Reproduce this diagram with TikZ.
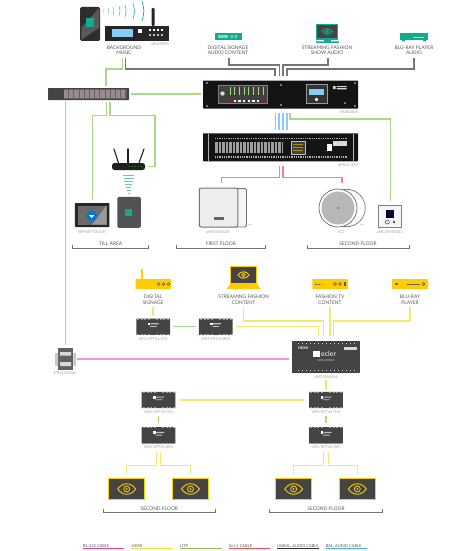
\documentclass[tikz,border=0pt]{standalone}
\usepackage{fontspec}
\setmainfont{Lato}
\usetikzlibrary{positioning,calc}
\definecolor{eclTeal}{HTML}{12AB90}
\definecolor{eclYel}{HTML}{FFCC00}
\definecolor{eclDark}{HTML}{444444}
\definecolor{cabPink}{HTML}{F78EE8}
\definecolor{cabYel}{HTML}{F4E96C}
\definecolor{cabGreen}{HTML}{A9DB85}
\definecolor{cabRed}{HTML}{FA7F87}
\definecolor{cabGrey}{HTML}{777777}
\definecolor{cabBlue}{HTML}{86CDF5}
\newcommand{\eyemark}[3]{%
  \begin{scope}[shift={(#1)},scale=#2]
    \draw[#3,line width=.9pt] (-9,0) .. controls (-4,-7) and (4,-7) .. (9,0)
         .. controls (4,7) and (-4,7) .. (-9,0) -- cycle;
    \draw[#3,line width=.8pt] (0,0) circle (3);
    \fill[#3] (0,0) circle (1);
  \end{scope}}

\begin{document}
\begin{tikzpicture}[x=1pt,y=-1pt,
  every node/.style={font=\fontsize{4.9}{5.2}\selectfont, text=black!65},
  lab/.style={align=center, inner sep=3pt},
  tag/.style={font=\fontsize{3.9}{4}\selectfont, text=black!38, inner sep=0pt},
  box/.style={rectangle, inner sep=0pt, fill=#1},
  sz/.style 2 args={minimum width=#1pt, minimum height=#2pt},
  cab/.style={line width=1.35pt},
  rs/.style={cab, cabPink},
  hdmi/.style={cab, cabYel},
  utp/.style={cab, cabGreen},
  spk/.style={cab, cabRed},
  unbal/.style={cab, cabGrey},
  bal/.style={cab, cabBlue},
  rack/.style={box=#1, rounded corners=.6pt},
  brk/.style={line width=.6pt, black!55},
  scrn/.style={rectangle, draw=eclYel, line width=1.1pt, fill=eclDark, inner sep=0pt}
]
  \useasboundingbox (0,0) rectangle (450,551);
  \fill[white] (0,0) rectangle (450,551);

  % source devices, top row
  \node[box=black!82, rounded corners=1.5pt, sz={20}{34}] (phone) at (90,24) {};
  \fill[black!65] (phone.north east) ++(-.8,.8) -- ++(0,20) -- ++(-18,12) -- ++(0,-12) -- cycle;
  \node[box=eclTeal, sz={8}{9}] (phonelogo) at (90,23) {};
  \foreach \x/\h/\o in {103/2/25,108/3/40,113/4/55,119/5/65,125/6/75,133/8/85,142/10/100} {
    \draw[eclTeal!\o, line width=.7pt] (\x,11-\h) .. controls (\x+\h*.25,11) .. (\x,11+\h);
  }
  \node[box=black!85, sz={3}{18}, rounded corners=1pt] (aerial) at (153,17) {};
  \node[box=black!85, sz={64}{15}] (player) at (137,33.5) {};
  \node[box=cabBlue, sz={21}{8}] (playerscr) at (122.5,33) {};
  \node[box=white, sz={4}{4}] (playerbtn) at (139.5,31.5) {};
  \foreach \x in {150,154,158,162} { \fill[white] (\x-1,29) rectangle (\x+1,31); \fill[white!75!black] (\x-1,34) rectangle (\x+1,36); }
  \node[tag] (tplayer) at (160,44) {aPLAYER1};
  \node[lab] (lmusic) at (124,50.5) {BACKGROUND\\MUSIC};

  \node[box=eclTeal, sz={27}{7}] (signage) at (228.5,36.5) {};
  \fill[white!50!eclTeal] (218,35) rectangle (228,38.5);
  \foreach \x in {232,236} { \draw[white!60!eclTeal, line width=.5pt] (\x,36.5) circle (1.3); }
  \node[lab] (lsignage) at (228,50.5) {DIGITAL SIGNAGE\\AUDIO CONTENT};

  \node[box=eclTeal, sz={22.5}{16}] (monitor) at (327.2,32) {};
  \node[box=eclDark, sz={20.5}{13}] (monscr) at (327.2,31.5) {};
  \eyemark{monscr}{.55}{eclTeal}
  \fill[eclTeal] (324,40) rectangle (331,41.5) (316,41.5) rectangle (339,43);
  \node[lab] (lstream) at (327,50.5) {STREAMING FASHION\\SHOW AUDIO};

  \node[box=eclTeal, sz={28}{7}] (bluray) at (414,37) {};
  \fill[eclTeal] (402,40) rectangle (405,41.5) (423,40) rectangle (426,41.5);
  \draw[white!60!eclTeal, line width=.5pt] (413,37) -- (424,37);
  \node[lab] (lbluray) at (414,50.5) {BLU-RAY PLAYER\\AUDIO};

  % audio matrix
  \node[rack=black!92, sz={155}{28}] (hub) at (280.5,94.6) {};
  \draw[black!50, line width=.5pt, fill=black!75] (218,85) rectangle (267,103.7);
  \foreach \x in {230,234.7,239.4,244.1,248.8,253.5,258.2,262.9} {
    \draw[cabGreen, line width=.8pt] (\x,87) -- (\x,95);
    \fill[white] (\x-1.2,99.5) rectangle (\x+1.2,102);
  }
  \fill[red!85!black] (228.8,99) rectangle (231.2,102) (261.7,99) rectangle (264.1,102);
  \fill[white!85!black] (222.5,93.5) circle (2.2);
  \draw[black!40, line width=.5pt, fill=black!80] (306.7,84.7) rectangle (327,103);
  \node[box=cabBlue, sz={15}{6}] (hubscr) at (316.7,91.7) {};
  \fill[white] (316.5,99.5) circle (1.8);
  \fill[white!85!black] (333,86) rectangle (335.5,89) (336.5,86) rectangle (346.5,87.2) (336.5,88.2) rectangle (346.5,89.4);
  \foreach \p in {(207,83),(355,83),(207,106),(355,106),(281,85),(281,105),(345,103)} { \fill[white!85!black] \p circle (.8); }
  \node[tag, anchor=east] (thub) at (358,112) {HUB1408};

  % power amplifier
  \node[rack=black!92, sz={155}{28}] (amp) at (280.5,147.3) {};
  \draw[white!70!black, line width=.5pt] (208,133.6) -- (208,161) (353.5,133.6) -- (353.5,161);
  \draw[white!70!black, line width=1.6pt, dash pattern=on .9pt off .9pt] (215,138.5) -- (348,138.5) (215,157) -- (348,157);
  \foreach \x in {215,216.4,...,283} { \draw[white!62!black, line width=.7pt] (\x,142) -- (\x,153); }
  \draw[white!75!black, line width=.6pt, fill=black!75] (291,141.5) rectangle (305,154);
  \foreach \y in {144,147,150} { \draw[eclYel!70!black, line width=.4pt] (293,\y) -- (303,\y); }
  \fill[white] (327,144) rectangle (331.5,151.3);
  \fill[white!85!black] (333,141) rectangle (347,146);
  \node[tag, anchor=east] (tamp) at (358,165) {aPSA2-250};

  % switch
  \node[rack=eclDark, sz={81}{12}] (switch) at (88.5,94) {};
  \fill[black!62] (63.5,89.3) rectangle (127,98.7);
  \foreach \r in {90,94.3} { \foreach \x in {64,69.2,...,122} {
    \fill[red!12!black!45] (\x,\r) rectangle (\x+4.2,\r+3.6); } }

  % till area
  \node[box=black!85, rounded corners=.6pt, sz={34.5}{24}] (touch) at (92.2,215) {};
  \fill[black!58] (78,205.5) rectangle (106.5,224.5);
  \fill[black!40] (106.5,205.5) -- (106.5,224.5) -- (92,224.5) -- cycle;
  \fill[blue!45!cyan!85!black] (91.7,216) circle (5.5);
  \fill[white] (89,215) -- (94.4,215) -- (91.7,218) -- cycle;
  \node[tag] (ttouch) at (92,232) {WPNETTOUCH};
  \foreach \a/\b in {114/118.5,128/128,144/139} { \draw[black!88, line width=1.1pt, line cap=round] (\a,149) -- (\b,163); }
  \node[box=black!88, rounded corners=2.5pt, sz={33}{7}] (router) at (128.5,166.5) {};
  \foreach \x in {129,132,135,138,141} { \fill[green!85!black] (\x,166.5) circle (.5); }
  \foreach \y/\w in {175/5.5,178/5,181/4.5,184/3.6,187/2.7,190/1.8,193/1} {
    \draw[eclTeal!65, line width=.55pt] (128.7-\w,\y) .. controls (128.7,\y+.7) .. (128.7+\w,\y);
  }
  \node[box=black!68, rounded corners=1.5pt, sz={23.5}{31}] (wtouch) at (129,212.3) {};
  \node[box=eclTeal, sz={7}{7}] (wtouchlogo) at (128.7,212) {};

  % first floor
  \draw[black!55, line width=.9pt, fill=white!96!black, rounded corners=1.5pt] (230,188.5) rectangle (246.5,227);
  \node[rectangle, draw=black!55, line width=1pt, fill=white!93!black, rounded corners=2pt, inner sep=0pt, sz={38.5}{39}] (motus) at (218.5,207.5) {};
  \fill[black!60] (214,217) rectangle (224,220);
  \node[font=\bfseries\fontsize{4}{4}\selectfont, inner sep=0pt] (dotsa) at (250,225) {...};
  \node[tag] (tmotus) at (218,232) {aMOTUS520};

  % second floor
  \draw[black!55, line width=.7pt, fill=white] (346.5,208) circle (18.7);
  \node[circle, draw=black!60, line width=.7pt, fill=white, inner sep=0pt, minimum size=38pt] (ceil) at (338,208) {};
  \fill[white!72!black] (338,208) circle (16.5);
  \fill[black!60] (338,208) circle (1);
  \node[font=\bfseries\fontsize{4}{4}\selectfont, inner sep=0pt] (dotsb) at (362,225) {...};
  \node[tag] (tceil) at (341,232) {IC3};
  \node[rectangle, draw=black!50, line width=.7pt, fill=white!96!black, inner sep=0pt, sz={23}{22.5}] (wctrl) at (390.2,216.4) {};
  \node[box=black!80!blue, sz={7.5}{8}] (wctrlscr) at (390.2,214) {};
  \draw[black!60, line width=.7pt] (387.3,222) circle (2);
  \fill[black!70] (392.5,221) rectangle (394.5,223);
  \node[tag] (twctrl) at (390,232) {aMCONTROL1};

  % floor brackets
  \foreach \xa/\xb/\yy/\nm/\txt in {72.7/148.7/244/brta/TILL AREA, 176.7/265/244/brtb/FIRST FLOOR, 307/409/244/brtc/SECOND FLOOR,
                                     103/215.7/508.3/brtd/SECOND FLOOR, 269.3/382.7/508.3/brte/SECOND FLOOR} {
    \node[inner sep=0pt] (\nm) at ({(\xa+\xb)/2},\yy) {\txt};
    \draw[brk] (\xa,\yy+1) -- (\xa,\yy+4) -- (\xb,\yy+4) -- (\xb,\yy+1);
  }

  % video sources
  \fill[eclYel] (140.9,269) rectangle (142.5,280);
  \node[box=eclYel, rounded corners=.6pt, sz={35.5}{10}] (vsign) at (153.4,284) {};
  \foreach \x in {158.5,163.5,168.5} { \draw[black!65, line width=.5pt] (\x,284) circle (1.4); }
  \node[lab] (lvsign) at (153,299.8) {DIGITAL\\SIGNAGE};

  \node[scrn, sz={26.5}{17.5}] (laptop) at (243.5,275) {};
  \eyemark{laptop}{.62}{eclYel}
  \fill[eclYel] (230,284) -- (257,284) -- (260.7,289) -- (226.7,289) -- cycle;
  \node[lab] (lstreamv) at (243.5,299.8) {STREAMING FASHION\\CONTENT};

  \node[box=eclYel, rounded corners=.6pt, sz={35.5}{10}] (vtv) at (330,284) {};
  \foreach \x in {335,340} { \draw[black!65, line width=.5pt] (\x,284) circle (1.5); }
  \fill[black!65] (344,282) rectangle (345.5,286);
  \draw[black!60, line width=.7pt, dash pattern=on .8pt off .8pt] (314.5,284) -- (322,284);
  \node[lab] (lvtv) at (330,299.8) {FASHION TV\\CONTENT};

  \node[box=eclYel, rounded corners=.6pt, sz={36}{10}] (vbluray) at (410,284) {};
  \fill[black!60] (394.5,283) rectangle (398,285);
  \draw[black!60, line width=.6pt] (407,284) -- (420,284);
  \draw[black!65, line width=.5pt] (423.5,284) circle (1.5);
  \node[lab] (lvbluray) at (410,299.8) {BLU-RAY\\PLAYER};

  % extenders
  \foreach \nm/\cx/\cy/\txt in {txa/153.2/326.7/VEO-XPT44 (TX), rxa/215.7/326.7/VEO-XPT44 (RX),
                                 txb/158.5/400/VEO-XPT44 (TX), txc/326/400/VEO-XPT44 (TX),
                                 rxb/158.5/435.3/VEO-XPT44 (RX), rxc/326/435.3/VEO-XPT44 (RX)} {
    \node[box=eclDark, rounded corners=.5pt, sz={33.6}{16.4}] (\nm) at (\cx,\cy) {};
    \fill[white] (\cx-5.5,\cy-4) rectangle (\cx-3,\cy-1.5);
    \fill[white!75!black] (\cx-2.5,\cy-3.5) rectangle (\cx+5.5,\cy-2.3) (\cx-3,\cy-.7) rectangle (\cx+3.5,\cy+.2);
    \foreach \dx in {-15,-11,-8,-4,4,8,11,15} {
      \fill[white!62!black] (\cx+\dx-1,\cy-8.2) rectangle (\cx+\dx+1,\cy-7.2);
      \fill[white!62!black] (\cx+\dx-1,\cy+7.2) rectangle (\cx+\dx+1,\cy+8.2);
    }
    \node[tag] (t\nm) at (\cx,\cy+12.2) {\txt};
  }

  % video switcher
  \node[box=eclDark, sz={68}{31.7}] (vsw) at (326,356.9) {};
  \node[font=\bfseries\fontsize{3.6}{4}\selectfont, text=white, inner sep=0pt] (vswhdmi) at (303,348.5) {HDMI};
  \node[box=white!85!black, sz={13}{3}] (vswport) at (350,348.5) {};
  \node[box=white, sz={6.5}{6.5}] (vswlogo) at (316.6,354) {};
  \node[font=\fontsize{7}{7}\selectfont, text=white, inner sep=0pt, anchor=west] (vswecler) at (321,353.6) {ecler};
  \node[font=\fontsize{2.8}{3}\selectfont, text=white!85!black, inner sep=0pt] (vswname) at (326,360.5) {VEO-SWH44};
  \foreach \dx in {-28,-24,...,28} {
    \fill[white!80!black] (326+\dx-.5,342.5) rectangle (326+\dx+.5,344);
    \fill[white!80!black] (326+\dx-.5,369.5) rectangle (326+\dx+.5,371);
  }
  \node[tag] (tvsw) at (326,377.3) {VEO-SWH44};

  % serial interface
  \node[box=black!62, sz={15.5}{22}] (eth) at (65.7,359) {};
  \fill[white!78!black] (55,353) rectangle (58,366) (73.3,353) rectangle (76,366);
  \fill[white!85!black] (60,352) rectangle (71,355.5) (60,362) rectangle (71,366);
  \node[tag] (teth) at (65,373.3) {ETH2232AD};

  % screens
  \foreach \nm/\cx in {scra/126.7, scrb/190.5, scrc/293.7, scrd/357.3} {
    \node[scrn, sz={36}{21.5}] (\nm) at (\cx,489) {};
    \eyemark{\nm}{1}{eclYel}
  }

  % unbalanced audio into the matrix
  \draw[unbal] ([xshift=1.7pt]lmusic.south) -- ++(0,11) -| ([xshift=-5.5pt,yshift=4.7pt]hub.north);
  \draw[unbal] ([xshift=1pt]lsignage.south) -- ++(0,7) -| ([xshift=-1pt,yshift=4.7pt]hub.north);
  \draw[unbal] ([xshift=1pt]lstream.south) -- ++(0,7) -| ([xshift=2.5pt,yshift=4.7pt]hub.north);
  \draw[unbal] (lbluray.south) -- ++(0,11) -| ([xshift=6.5pt,yshift=4.7pt]hub.north);
  \foreach \dx in {-4.8,-1.5,2.5,6.5} {
    \draw[bal] ([xshift=\dx pt,yshift=-4.5pt]hub.south) -- ([xshift=\dx pt,yshift=3.5pt]amp.north);
  }
  \draw[spk] ([xshift=-.8pt,yshift=-4.7pt]amp.south) -- ++(0,11) -| ([xshift=3.2pt,yshift=5pt]motus.north);
  \draw[spk] ([xshift=2.5pt,yshift=-4.7pt]amp.south) -- ++(0,11) -| ([xshift=4pt,yshift=6pt]ceil.north);

  % network
  \draw[utp] ([xshift=-1.3pt]lmusic.south) -- ++(0,11) -| ([xshift=17.5pt,yshift=2.3pt]switch.north);
  \draw[utp] ([xshift=2pt]switch.east) -- ([xshift=-2.3pt]switch.east -| hub.west);
  \draw[utp] ([yshift=-1pt]switch.south -| eth.north) -- ([yshift=3pt]eth.north);
  \draw[utp] ([xshift=18.2pt,yshift=-2pt]switch.south) -- ++(0,13) -| ([yshift=3pt]touch.north);
  \draw[utp] ([xshift=21.5pt,yshift=-2pt]switch.south) -- ++(0,13) -- ++(45,0) |- ([xshift=3pt]router.east);
  \draw[utp] ([xshift=9.5pt,yshift=-4.5pt]hub.south) -- ++(0,5.7) -| ([yshift=4pt]wctrl.north);
  \draw[utp] ([xshift=2.3pt]txa.east) -- ([xshift=-2.3pt]rxa.west);
  \draw[utp] ([yshift=-8pt]txb.south) -- ([yshift=3.6pt]rxb.north);
  \draw[utp] ([yshift=-8pt]txc.south) -- ([yshift=3.6pt]rxc.north);
  \draw[rs] ([xshift=3.7pt]eth.east) -- ([xshift=-2.7pt]eth.east -| vsw.west);

  % video
  \draw[hdmi] (lvsign.south) -- ([yshift=2.6pt]lvsign.south |- txa.north);
  \draw[hdmi] (lstreamv.south) -- ++(0,13.7) -| ([xshift=-2.7pt,yshift=5pt]vsw.north);
  \draw[hdmi] (lvtv.south) -- ([yshift=5pt]lvtv.south |- vsw.north);
  \draw[hdmi] (lvbluray.south) -- ++(0,13.7) -| ([xshift=7.3pt,yshift=5pt]vsw.north);
  \draw[hdmi] ([xshift=3.4pt]rxa.east) -| ([xshift=-7.3pt,yshift=5pt]vsw.north);
  \draw[hdmi] ([yshift=-7.3pt]vsw.south) -- ([yshift=2pt]txc.north);
  \draw[hdmi] ([xshift=4pt]txb.east) -- ([xshift=-4.7pt]txc.west);
  \foreach \rx/\sa/\sb in {rxb/scra/scrb, rxc/scrc/scrd} {
    \draw[hdmi] ([xshift=-2.3pt,yshift=-8.7pt]\rx.south) -- ++(0,13) -| ([yshift=3.7pt]\sa.north);
    \draw[hdmi] ([xshift=2.3pt,yshift=-8.7pt]\rx.south) -- ++(0,13) -| ([yshift=3.7pt]\sb.north);
  }

  % legend
  \foreach \i/\x/\col/\txt in {1/82.7/E9409F/RS-232 CABLE, 2/131.3/F0E040/HDMI, 3/180/8CC850/UTP,
                               4/228.7/EE4A50/{2x1,5 CABLE}, 5/277/333333/UNBAL. AUDIO CABLE, 6/325.7/45B0E8/BAL. AUDIO CABLE} {
    \definecolor{legcol}{HTML}{\col}
    \node[inner sep=0pt, anchor=base west, font=\fontsize{4}{4}\selectfont] (leg\i) at (\x,547.1) {\txt};
    \draw[legcol, line width=.9pt] (\x,548.4) -- ++(41.5,0);
  }
\end{tikzpicture}
\end{document}
